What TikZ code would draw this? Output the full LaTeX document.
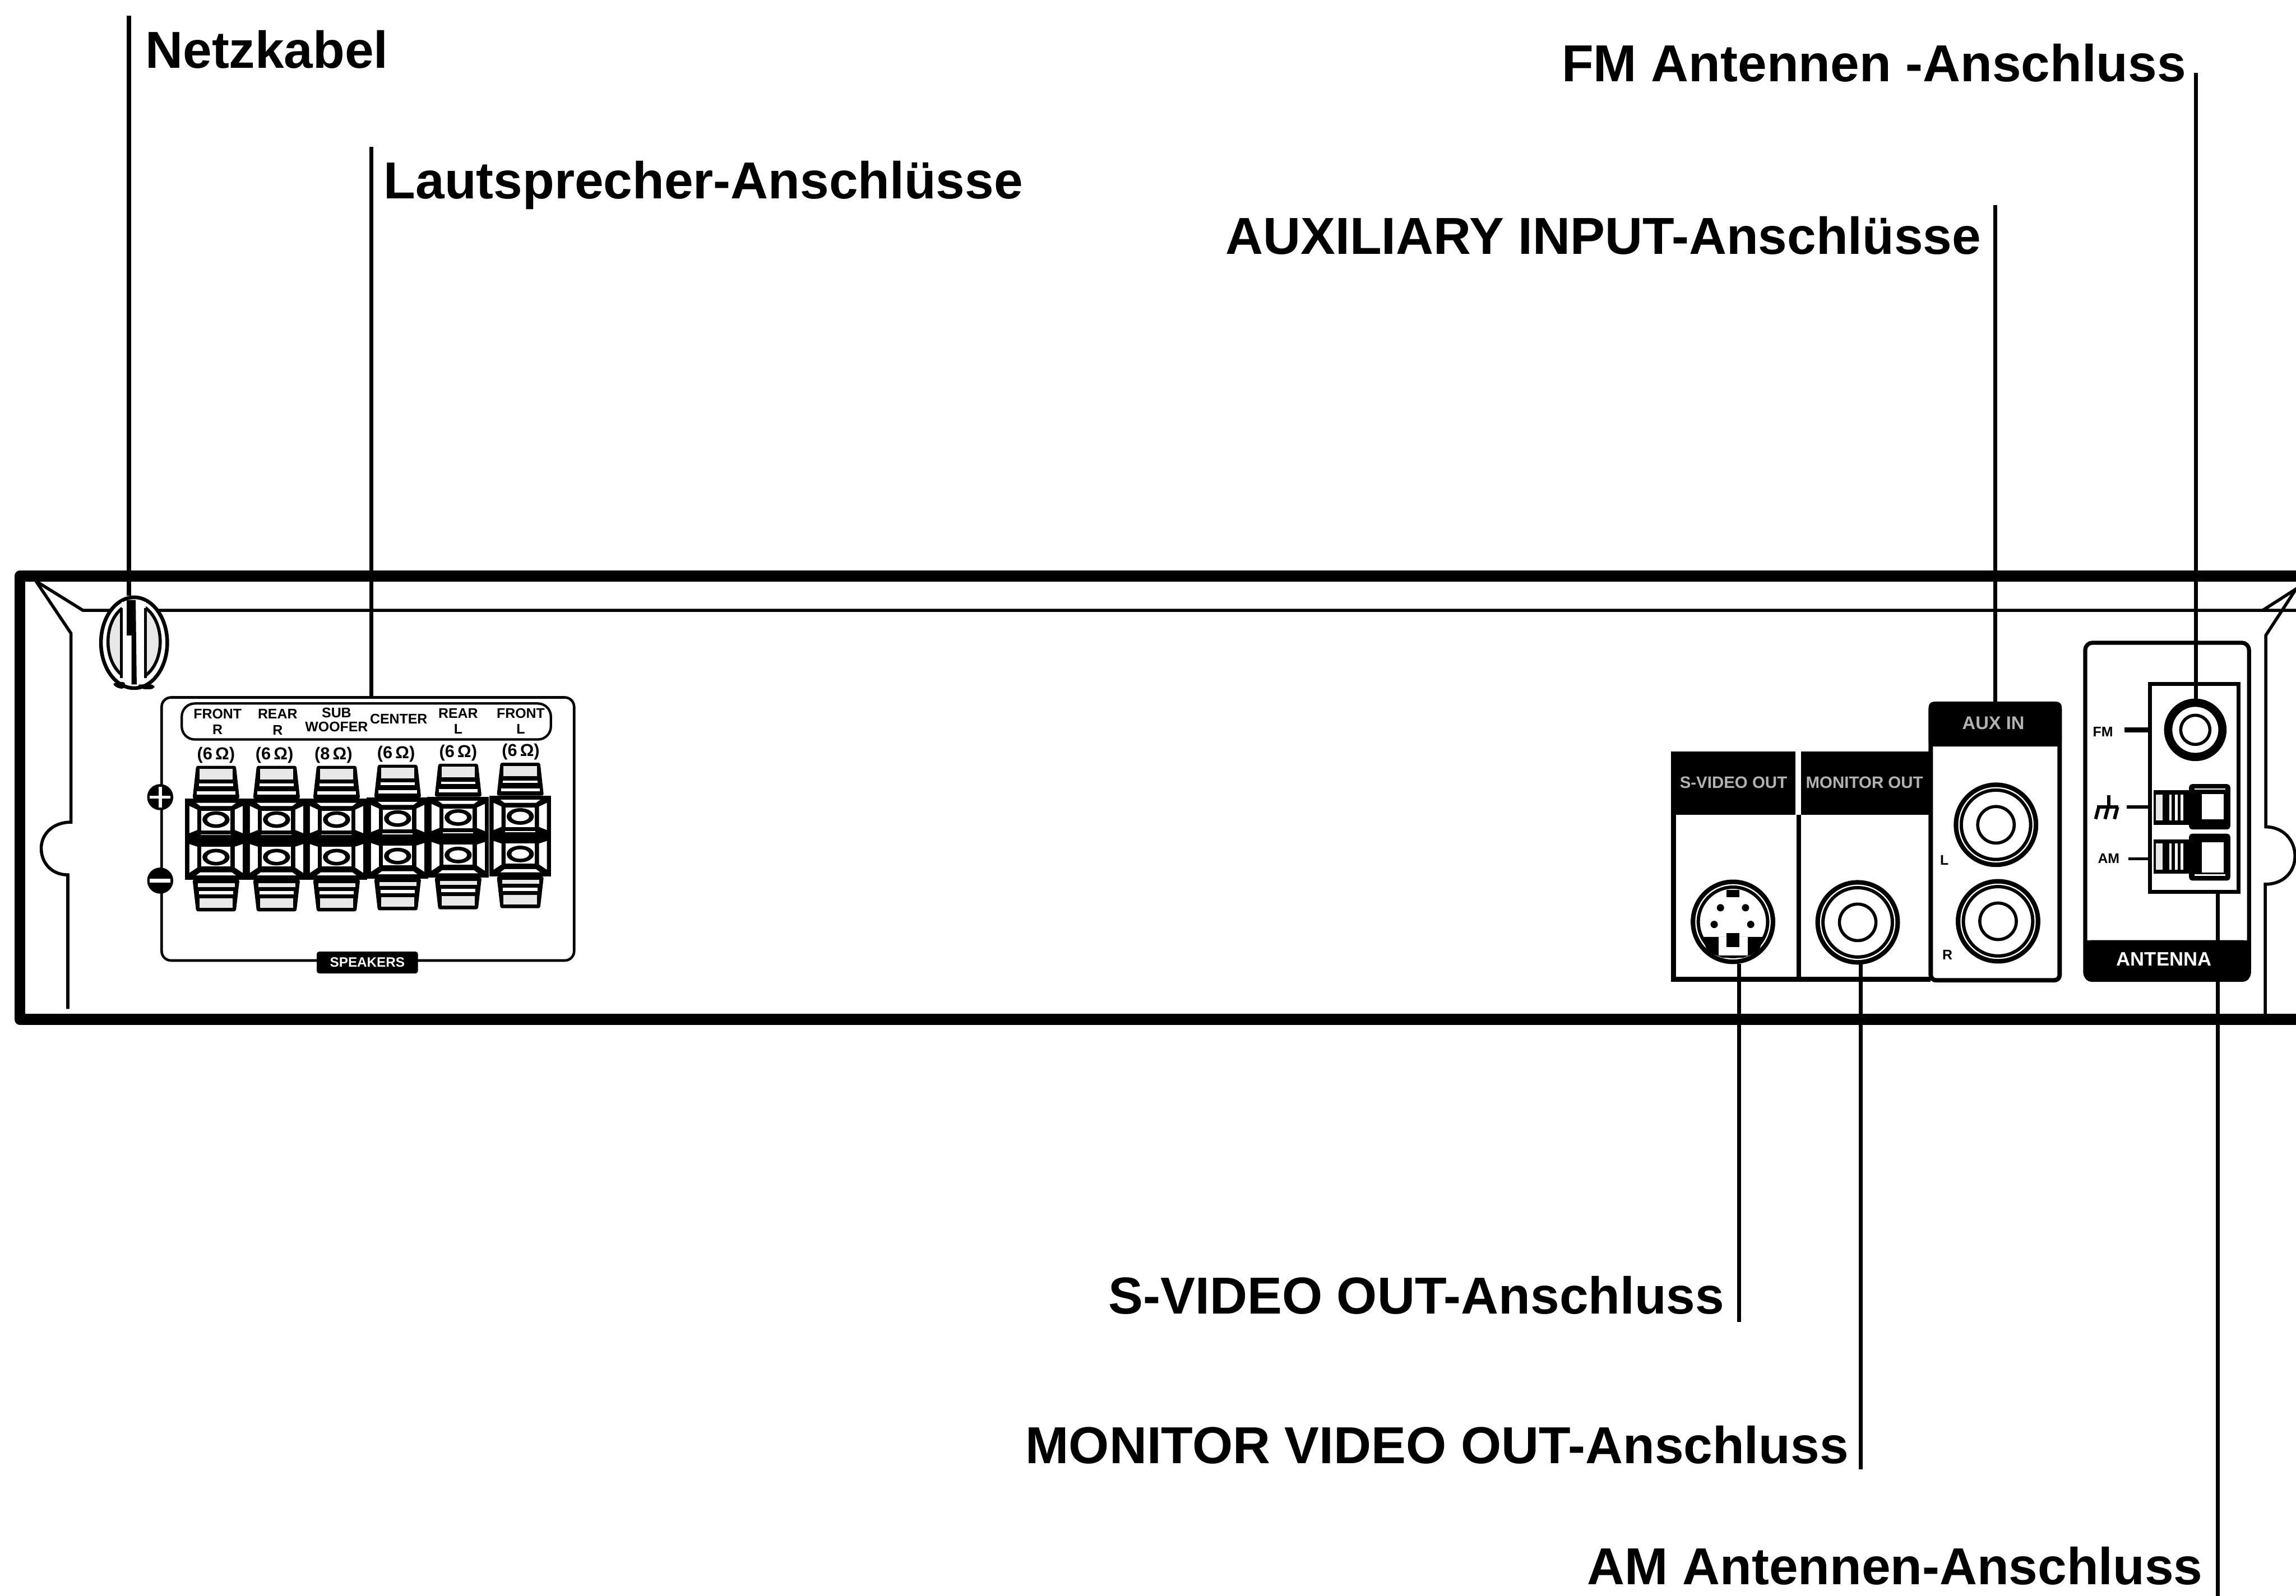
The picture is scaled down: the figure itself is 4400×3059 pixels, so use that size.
\documentclass[tikz,border=0pt]{standalone}
\usepackage{fontspec}
\setmainfont{Liberation Sans}
\usepackage{tikz}
\usetikzlibrary{positioning}
\usetikzlibrary{shapes.geometric}
\tikzset{leader/.style={line width=2.2pt}}
\tikzset{callout/.style={font=\fontsize{28.35}{32}\selectfont\bfseries,inner sep=0pt}}
\tikzset{tiny label/.style={font=\fontsize{7.6}{8.6}\selectfont\bfseries,inner sep=0pt,align=center}}
\tikzset{ohm label/.style={font=\fontsize{9.4}{10}\selectfont\bfseries,inner sep=0pt}}
\tikzset{jack ring/.style={circle,draw,line width=1.7pt,minimum size=1.56cm,inner sep=0pt}}
\tikzset{hair/.style={line width=1.7pt}}
\definecolor{capgray}{gray}{0.91}
% one pair of speaker terminals
\newcommand{\terminal}[2]{
\begin{scope}[shift={(#1,#2)}]
\fill (-59,-78) rectangle (59,77);
\fill[rounded corners=1pt] (-38,-141) -- (38,-141) -- (45,-78) -- (-45,-78) -- cycle;
\fill[rounded corners=1pt] (-45,77) -- (45,77) -- (38,138) -- (-38,138) -- cycle;
\fill[capgray] (-32,-135) rectangle (32,-115);
\fill[white] (-33,-107) rectangle (33,-102);
\fill[white] (-37,-92) rectangle (37,-86);
\fill[capgray] (-35,84) rectangle (36,91);
\fill[white] (-33,99) rectangle (33,105);
\fill[capgray] (-32,113) rectangle (32,131);
\foreach \s in {-1,1} {
\fill[white] (\s*51,-64) -- (\s*36,-57) -- (\s*36,-18) -- (\s*51,-12) -- cycle;
\fill[white] (\s*51,9) -- (\s*36,14) -- (\s*36,54) -- (\s*51,64) -- cycle;
}
\fill[white] (-38,-70) -- (38,-70) -- (30,-64) -- (-30,-64) -- cycle;
\fill[white] (-30,63) -- (30,63) -- (38,69) -- (-38,69) -- cycle;
\fill[white] (-29,-10) rectangle (29,-8);
\foreach \y/\o in {-55/-38,14/34} {
\fill[white] (-28,\y) rectangle (28,\y+38);
\fill (0,\o) ellipse (26 and 16);
\fill[white] (0,\o) ellipse (17 and 9);
}
\end{scope}
}
% cinch jack rings
\newcommand{\rcarings}[1]{
\draw[line width=4.4pt] (#1) circle (71);
\draw[white,line width=.7pt] (#1) circle (71);
\draw[line width=1.7pt] (#1) circle (35);
}
\begin{document}
\begin{tikzpicture}[x=0.01cm,y=-0.01cm]
\useasboundingbox (0,0) rectangle (4400,3059);
% housing
\draw[line width=6pt,line join=round] (4400,1104) -- (38,1104) -- (38,1954) -- (4400,1954);
\draw[hair] (4400,1170) -- (4336,1170) -- (4400,1129) -- (4342,1218) -- (4342,1585) .. controls (4375,1585) and (4398,1610) .. (4398,1641) .. controls (4398,1672) and (4375,1695) .. (4341,1695) -- (4341,1948);
\draw[hair] (4336,1170) -- (159,1170) -- (69,1114) -- (136,1214) -- (136,1576) .. controls (100,1576) and (79,1600) .. (79,1626) .. controls (79,1655) and (100,1677) .. (130,1677) -- (130,1934);
% mains cord
\node[ellipse,draw,fill=white,line width=2pt,minimum width=1.27cm,minimum height=1.74cm,inner sep=0pt] (cord) at (257,1232) {};
\draw[line width=1.7pt,fill=capgray] (257,1230) ellipse (50 and 72);
\fill[white] (233,1154) rectangle (279,1306);
\draw[line width=1.5pt] (233,1165) -- (233,1300);
\draw[line width=1.5pt] (279,1165) -- (279,1300);
\fill (243,1150) -- (260,1150) -- (262,1312) -- (252,1312) -- (252,1218) -- (243,1218) -- cycle;
\fill[rounded corners=2pt] (214,1310) -- (240,1306) -- (240,1320) -- (226,1320) -- cycle;
\fill[rounded corners=2pt] (262,1312) -- (296,1312) -- (296,1321) -- (270,1321) -- cycle;
% speakers
\node[draw,rounded corners=.18cm,line width=1.4pt,minimum width=7.9cm,minimum height=5.04cm,inner sep=0pt] (spkpanel) at (705,1589) {};
\node[draw,rounded corners=.25cm,line width=1.3pt,minimum width=7.07cm,minimum height=.69cm,inner sep=0pt] (spkhead) at (702,1383) {};
\foreach \c/\d in {414/0,530/0,645/0,762/-2,878/-4,997/-6} {
\terminal{\c}{1609+\d}
}
\node[tiny label] (lfr) at (417,1383) {FRONT\\R};
\node[tiny label] (lrr) at (532,1384) {REAR\\R};
\node[tiny label] (lsw) at (645,1380) {SUB\\[-1pt]WOOFER};
\node[tiny label] (lce) at (764,1378) {CENTER};
\node[tiny label] (lrl) at (878,1382) {REAR\\L};
\node[tiny label] (lfl) at (998,1382) {FRONT\\L};
\foreach \c/\v/\y in {414/6/1447,526/6/1447,639/8/1447,759/6/1445,878/6/1443,998/6/1441} {
\node[ohm label] at (\c,\y) {(\v\,Ω)};
}
\fill (307,1528) circle (25);
\fill[white] (287,1525) rectangle (327,1531);
\fill[white] (304,1508) rectangle (310,1548);
\fill (307,1688) circle (25);
\fill[white] (287,1684) rectangle (327,1692);
\node[fill=black,text=white,rounded corners=.05cm,font=\fontsize{7.4}{8}\selectfont\bfseries,inner sep=0pt,minimum width=1.94cm,minimum height=.42cm] (spktag) at (704,1845) {SPEAKERS};
% video boxes
\fill (3202,1441) rectangle (3441,1562);
\fill (3451,1441) rectangle (3700,1562);
\draw[line width=2.6pt] (3207,1562) -- (3207,1877) -- (3700,1877);
\draw[line width=2.6pt] (3447,1562) -- (3447,1877);
\node[font=\fontsize{9}{10}\selectfont\bfseries,text=gray!60,inner sep=0pt] (svlab) at (3322,1500) {S-VIDEO OUT};
\node[font=\fontsize{9}{10}\selectfont\bfseries,text=gray!60,inner sep=0pt] (molab) at (3573,1500) {MONITOR OUT};
% aux box
\draw[line width=2.4pt,rounded corners=.1cm] (3700,1349) -- (3947,1349) -- (3947,1879) -- (3700,1879) -- cycle;
\fill[rounded corners=.1cm] (3696,1345) rectangle (3951,1431);
\fill (3696,1400) rectangle (3951,1431);
\coordinate (auxbox) at (3824,1345);
\node[font=\fontsize{10}{11}\selectfont\bfseries,text=gray!60,inner sep=0pt] (auxlab) at (3820,1386) {AUX IN};
\node[jack ring] (auxl) at (3825,1581) {};
\node[jack ring] (auxr) at (3829,1766) {};
\node[jack ring] (moni) at (3560,1768) {};
\node[jack ring] (svid) at (3321,1767) {};
\rcarings{auxl}
\rcarings{auxr}
\rcarings{moni}
\draw[line width=4.4pt] (svid) circle (71);
\draw[white,line width=.7pt] (svid) circle (71);
\fill (3321,1767) ++(-12,-61) rectangle ++(24,14);
\fill (3262,1796) -- (3380,1796) -- (3370,1825) -- (3340,1836) -- (3302,1836) -- (3272,1825) -- cycle;
\fill[white] (3293,1796) rectangle (3349,1832);
\fill (3309,1788) rectangle (3333,1815);
\foreach \p/\q in {-24/-27,24/-27,-36/5,34/5} {
\fill (3321+\p,1767+\q) circle (7);
}
\node[tiny label] (ll) at (3726,1649) {L};
\node[tiny label] (lr) at (3732,1830) {R};
% antenna panel
\draw[line width=2.2pt,rounded corners=.14cm] (3996,1232) -- (4310,1232) -- (4310,1878) -- (3996,1878) -- cycle;
\fill[rounded corners=.14cm] (3994,1802) rectangle (4312,1882);
\fill (3994,1802) rectangle (4312,1845);
\node[font=\fontsize{10.6}{11}\selectfont\bfseries,text=white,inner sep=0pt] (antlab) at (4147,1839) {ANTENNA};
\draw[line width=2.2pt] (4120,1311) rectangle (4290,1710);
\coordinate (antbox) at (4250,1710);
\node[circle,draw,line width=4.5pt,minimum size=1.04cm,inner sep=0pt] (fmjack) at (4207,1399) {};
\draw[line width=1.7pt] (fmjack) circle (28);
\foreach \t/\h in {0/1515,1/1609} {
\fill (4127,\h) rectangle (4200,\h+66);
\fill[capgray] (4131,\h+8) rectangle (4144,\h+58);
\fill[white] (4157,\h+8) rectangle (4162,\h+58);
\fill[white] (4168,\h+8) rectangle (4173,\h+58);
\fill[white] (4179,\h+8) rectangle (4184,\h+58);
}
\fill[rounded corners=.06cm] (4195,1503) rectangle (4274,1590);
\fill[rounded corners=.06cm] (4195,1598) rectangle (4274,1688);
\fill[white] (4219,1522) rectangle (4261,1570);
\fill[white] (4219,1615) rectangle (4261,1672);
\fill[white] (4205,1511) rectangle (4265,1514);
\fill[white] (4205,1676) rectangle (4265,1679);
\node[tiny label] (fml) at (4030,1403) {FM};
\node[tiny label] (aml) at (4041,1646) {AM};
\draw[line width=2.8pt] (4071,1399) -- (4120,1399);
\draw[line width=1.7pt] (4075,1547) -- (4120,1547);
\draw[line width=1.7pt] (4079,1646) -- (4120,1646);
\draw[line width=1.8pt] (4019,1547) -- (4059,1547) (4041,1524) -- (4041,1547);
\foreach \g in {4022,4040,4058} {
\draw[line width=1.8pt] (\g,1547) -- (\g-6,1570);
}
% callouts
\node[callout,anchor=west] (netz) at (278,95) {Netzkabel};
\node[callout,anchor=west] (laut) at (735,355) {Lautsprecher-Anschlüsse};
\node[callout,anchor=east] (fman) at (4190,121) {FM Antennen -Anschluss};
\node[callout,anchor=east] (auxi) at (3797,452) {AUXILIARY INPUT-Anschlüsse};
\node[callout,anchor=east] (svan) at (3305,2483) {S-VIDEO OUT-Anschluss};
\node[callout,anchor=east] (moan) at (3543,2770) {MONITOR VIDEO OUT-Anschluss};
\node[callout,anchor=east] (aman) at (4222,3002) {AM Antennen-Anschluss};
\coordinate (netztop) at (247,30);
\coordinate (lauttop) at (712,281);
\coordinate (fmtop) at (4208,140);
\coordinate (auxtop) at (3824,393);
\coordinate (svend) at (3333,2534);
\coordinate (moend) at (3566,2817);
\coordinate (amend) at (4250,3059);
\draw[leader] (netztop) -- (netztop |- cord.north);
\draw[leader] (lauttop) -- (lauttop |- spkpanel.north);
\draw[leader] (fmtop) -- (fmtop |- fmjack.north);
\draw[leader] (auxtop) -- (auxbox);
\draw[leader] (svend) -- (svend |- svid.south);
\draw[leader] (moend) -- (moend |- moni.south);
\draw[leader] (amend) -- (antbox);
\end{tikzpicture}
\end{document}
